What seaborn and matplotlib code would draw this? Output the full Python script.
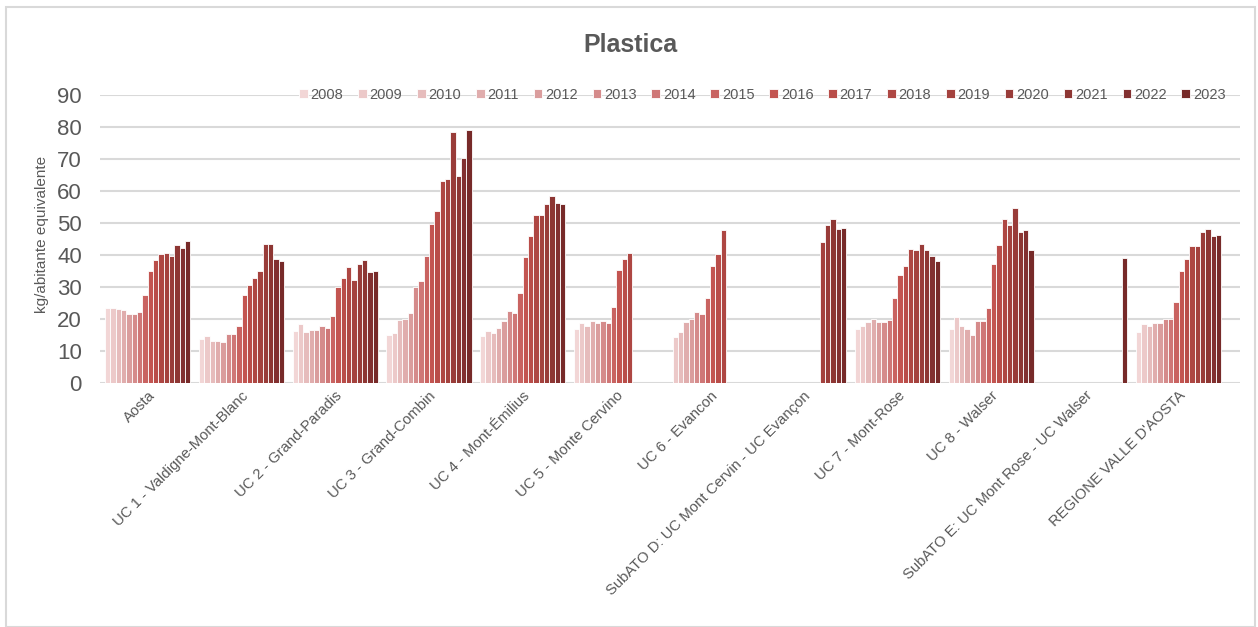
import numpy as np
import pandas as pd
import matplotlib
matplotlib.use("Agg")
import matplotlib.pyplot as plt
import seaborn as sns
from matplotlib.patches import Rectangle

nan = np.nan

regions = [
    "Aosta",
    "UC 1 - Valdigne-Mont-Blanc",
    "UC 2 - Grand-Paradis",
    "UC 3 - Grand-Combin",
    "UC 4 - Mont-Émilius",
    "UC 5 - Monte Cervino",
    "UC 6 - Evancon",
    "SubATO D: UC Mont Cervin - UC Evançon",
    "UC 7 - Mont-Rose",
    "UC 8 - Walser",
    "SubATO E: UC Mont Rose - UC Walser",
    "REGIONE VALLE D'AOSTA",
]
years = list(range(2008, 2024))

aosta = [23.6, 23.6, 23.3, 23.0, 21.5, 21.5, 22.2, 27.7, 35.2, 38.5, 40.3, 40.6, 39.9, 43.3, 42.2, 44.5]
uc1 = [13.7, 14.7, 13.3, 13.3, 12.9, 15.2, 15.2, 17.7, 27.4, 30.7, 32.9, 35.2, 43.6, 43.6, 38.9, 38.1]
uc2 = [16.2, 18.5, 15.9, 16.6, 16.6, 17.7, 17.1, 21.0, 30.0, 32.9, 36.3, 32.3, 37.4, 38.5, 34.7, 35.1]
uc3 = [15.0, 15.7, 19.8, 20.2, 22.0, 30.2, 32.0, 39.6, 49.6, 53.7, 63.1, 63.7, 78.6, 64.8, 70.4, 79.0]
uc4 = [14.6, 16.4, 15.7, 17.2, 19.4, 22.4, 22.0, 28.1, 39.3, 45.9, 52.6, 52.6, 55.9, 58.5, 56.3, 55.9]
uc5 = [16.8, 18.7, 17.9, 19.4, 18.7, 19.4, 18.7, 23.9, 35.4, 38.8, 40.6, nan, nan, nan, nan, nan]
uc6 = [nan, 14.3, 16.1, 19.1, 19.9, 22.1, 21.7, 26.6, 36.6, 40.4, 47.9, nan, nan, nan, nan, nan]
subato_d = [nan] * 11 + [44.1, 49.3, 51.2, 48.2, 48.6]
uc7 = [16.9, 18.0, 19.1, 20.2, 19.1, 19.1, 19.6, 26.6, 33.7, 36.6, 41.8, 41.5, 43.4, 41.5, 39.6, 38.2]
uc8 = [16.9, 20.6, 18.0, 16.9, 15.1, 19.5, 19.5, 23.6, 37.4, 43.3, 51.2, 49.3, 54.9, 47.1, 47.9, 41.5]
subato_e = [nan] * 15 + [39.0]
regione = [16.1, 18.4, 18.0, 18.7, 18.7, 20.2, 20.2, 25.4, 35.2, 38.9, 43.0, 43.0, 47.1, 48.2, 46.0, 46.3]

series = [aosta, uc1, uc2, uc3, uc4, uc5, uc6, subato_d, uc7, uc8, subato_e, regione]

colors = ["#f2d6d6", "#ecc9c9", "#e6bcbc", "#e0adad", "#da9d9d", "#d58b8b", "#cf7777",
          "#c96361", "#c35551", "#b94d49", "#ae4743", "#a4423e", "#993c39", "#8d3633",
          "#823030", "#772a29"]

rows = []
for reg, vals in zip(regions, series):
    for y, v in zip(years, vals):
        rows.append({"region": reg, "year": str(y), "value": v})
df = pd.DataFrame(rows)

sns.set_style("white")
plt.rcParams["font.family"] = ["Liberation Sans", "DejaVu Sans"]

fig = plt.figure(figsize=(12.58, 6.27), dpi=100)
ax = fig.add_axes([0.0795, 0.389, 0.9065, 0.459])

sns.barplot(data=df, x="region", y="value", hue="year", palette=colors,
            width=0.91, edgecolor="white", linewidth=0.6, saturation=1,
            errorbar=None, ax=ax)

ax.set_ylim(0, 90)
ax.set_xlim(-0.51, 11.66)
ax.set_yticks(range(0, 91, 10))
ax.yaxis.grid(True, color="#d9d9d9", linewidth=1.5)
ax.set_axisbelow(True)
for s in ax.spines.values():
    s.set_visible(False)
ax.tick_params(axis="y", length=0, pad=13, labelsize=16, labelcolor="#595959")
ax.tick_params(axis="x", length=0, pad=4, labelsize=10.7, labelcolor="#595959")
plt.setp(ax.get_xticklabels(), rotation=45, ha="right", rotation_mode="anchor")
ax.set_xlabel("")
ax.set_ylabel("kg/abitante equivalente", fontsize=11, color="#595959")
ax.yaxis.set_label_coords(-0.045, 0.517)

leg = ax.legend(loc="center", bbox_to_anchor=(0.606, 1 - 95 / 627), bbox_transform=fig.transFigure,
                ncol=16, frameon=False, fontsize=10.5, handlelength=0.6, handleheight=0.6,
                handletextpad=0.2, columnspacing=1.0)
for t in leg.get_texts():
    t.set_color("#595959")

fig.text(0.501, 1 - 45 / 627, "Plastica", ha="center", va="center",
         fontsize=18, fontweight="bold", color="#595959")

fig.patches.append(Rectangle((6 / 1258, 0), 1249 / 1258, 1 - 7 / 627, transform=fig.transFigure,
                             fill=False, edgecolor="#d9d9d9", linewidth=1.5))

fig.savefig("out.png", dpi=100)
